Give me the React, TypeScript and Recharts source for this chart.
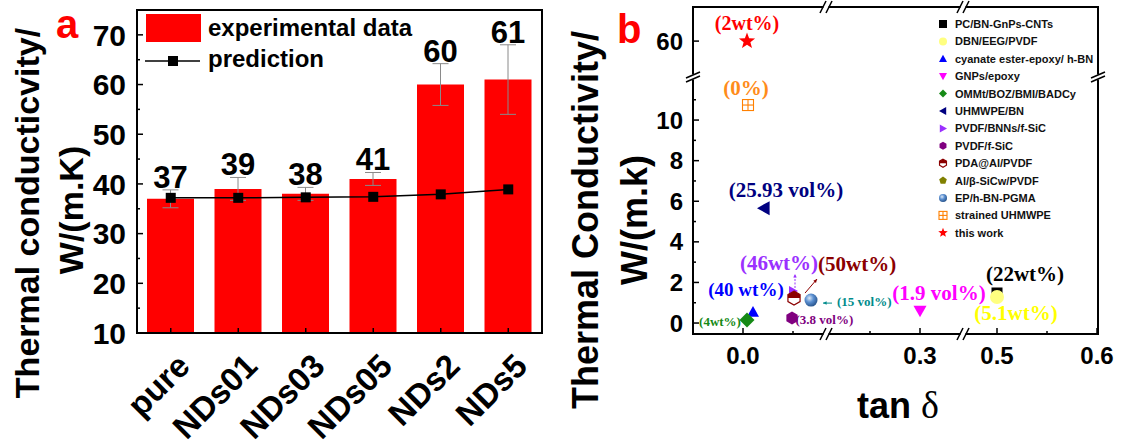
import React from 'react';
import {
  Bar, ComposedChart, ErrorBar, LabelList, Legend, Line, ReferenceLine,
  Scatter, ScatterChart, XAxis, YAxis,
} from 'recharts';

const SANS = '"Liberation Sans", Arial, Helvetica, sans-serif';
const SERIF = '"Liberation Serif", "Times New Roman", serif';

// ---------- panel a: thermal conductivity of the samples
const categories = ['pure', 'NDs01', 'NDs03', 'NDs05', 'NDs2', 'NDs5'];
const experimental = [37, 39, 38, 41, 60, 61];
const experimentalErr = [1.8, 2.3, 1.3, 1.3, 4.2, 7];
const prediction = [37.2, 37.2, 37.3, 37.4, 37.9, 38.9];
const aYTicks = [10, 15, 20, 25, 30, 35, 40, 45, 50, 55, 60, 65, 70];
const A_MIN = 10;
const A_MAX = 75;

// ---------- panel b: comparison with literature
const seriesNames = [
  'PC/BN-GnPs-CNTs', 'DBN/EEG/PVDF', 'cyanate ester-epoxy/ h-BN', 'GNPs/epoxy',
  'OMMt/BOZ/BMI/BADCy', 'UHMWPE/BN', 'PVDF/BNNs/f-SiC', 'PVDF/f-SiC', 'PDA@Al/PVDF',
  'Al/β-SiCw/PVDF', 'EP/h-BN-PGMA', 'strained UHMWPE', 'this work',
];
const tanDelta = [0.5, 0.5, 0.01, 0.3, 0.004, 0.021, 0.05, 0.049, 0.051, 0.051, 0.068, 0.005, 0.004];
const conductivity = [1.48, 1.28, 0.55, 0.6, 0.15, 5.66, 1.58, 0.25, 1.23, 1.23, 1.13, 10.74, 60];
const pointNotes = ['(22wt%)', '(5.1wt%)', '(40 wt%)', '(1.9 vol%)', '(4wt%)', '(25.93 vol%)', '(46wt%)', '(3.8 vol%)', '(50wt%)', '', '(15 vol%)', '(0%)', '(2wt%)'];
const bXTicks = [0, 0.05, 0.25, 0.3, 0.5, 0.55, 0.6];
const bYTicks = [0, 1, 2, 3, 4, 5, 6, 7, 8, 9, 10, 11, 60];

// value ranges hidden behind the // marks of the broken axes
const X_GAPS = [[0.083, 0.206], [0.343, 0.466]];
const Y_GAPS = [[12.12, 58.23]];

function squeeze(v: number, gaps: number[][]) {
  let out = v;
  for (const [a, b] of gaps) if (v >= b) out -= b - a;
  return out;
}

// chart sizes and the space around each plot box
const A_W = 560;
const A_H = 446;
const PLOT_A = { left: 137, top: 10, right: 18, bottom: 113 };
const B_W = 565;
const B_H = 446;
const PLOT_B = { left: 133, top: 7, right: 27, bottom: 112 };
const X_DOMAIN = [-0.05, 0.355];
const Y_DOMAIN = [-0.54, 15.57];

type Kind = 'square' | 'circle' | 'triUp' | 'triDown' | 'diamond' | 'triLeft' | 'triRight' | 'hexagon' | 'halfHex' | 'pentagon' | 'sphere' | 'crossSquare' | 'star';

const bStyle: { kind: Kind; color: string; text: string; s: number; fs: number; dx: number; dy: number; anchor: string; arrow?: number[]; dash?: boolean }[] = [
  { kind: 'square', color: '#000000', text: '#000000', s: 11, fs: 21, dx: 28, dy: -12, anchor: 'middle' },
  { kind: 'circle', color: '#ffff80', text: '#ffff00', s: 14, fs: 21, dx: 19, dy: 23, anchor: 'middle' },
  { kind: 'triUp', color: '#0000ff', text: '#0000ff', s: 12, fs: 19, dx: -7, dy: -16, anchor: 'middle' },
  { kind: 'triDown', color: '#ff00ff', text: '#ff00ff', s: 13, fs: 21, dx: 19, dy: -11, anchor: 'middle' },
  { kind: 'diamond', color: '#168a16', text: '#168a16', s: 15, fs: 13, dx: -27, dy: 6, anchor: 'middle' },
  { kind: 'triLeft', color: '#000080', text: '#000080', s: 14, fs: 21, dx: 22, dy: -11, anchor: 'middle' },
  { kind: 'triRight', color: '#9b30ff', text: '#9b30ff', s: 10, fs: 21, dx: -14, dy: -21, anchor: 'middle', arrow: [2, -3, 2, -17], dash: true },
  { kind: 'hexagon', color: '#800080', text: '#800080', s: 13, fs: 13, dx: 3.5, dy: 6, anchor: 'start' },
  { kind: 'halfHex', color: '#8b0000', text: '#8b0000', s: 14, fs: 21, dx: 24, dy: -27, anchor: 'start', arrow: [11, -5, 23, -19] },
  { kind: 'pentagon', color: '#808000', text: '#808000', s: 12, fs: 13, dx: 0, dy: 0, anchor: 'middle' },
  { kind: 'sphere', color: '#3b6fb0', text: '#008b8b', s: 13, fs: 13, dx: 26, dy: 6, anchor: 'start', arrow: [21, 3, 12, 3] },
  { kind: 'crossSquare', color: '#ff8000', text: '#ff8c1a', s: 11, fs: 21, dx: -2, dy: -10, anchor: 'middle' },
  { kind: 'star', color: '#ff0000', text: '#ff0000', s: 17, fs: 20, dx: 0, dy: -11, anchor: 'middle' },
];
// drawn first so the PDA@Al/PVDF marker sits on top of it
const drawOrder = [9, 0, 1, 2, 3, 4, 5, 6, 7, 8, 10, 11, 12];

function ngon(cx: number, cy: number, r: number, n: number, rot: number) {
  return Array.from({ length: n }, (_, k) => {
    const a = rot + (k * 2 * Math.PI) / n;
    return `${cx + r * Math.cos(a)},${cy + r * Math.sin(a)}`;
  }).join(' ');
}

function Marker({ kind, cx, cy, s, color }: { kind: Kind; cx: number; cy: number; s: number; color: string }) {
  const h = s / 2;
  switch (kind) {
    case 'square':
      return <rect x={cx - h} y={cy - h} width={s} height={s} fill={color} />;
    case 'circle':
      return <circle cx={cx} cy={cy} r={h} fill={color} />;
    case 'triUp':
      return <polygon points={`${cx},${cy - h} ${cx + h},${cy + h * 0.8} ${cx - h},${cy + h * 0.8}`} fill={color} />;
    case 'triDown':
      return <polygon points={`${cx},${cy + h} ${cx + h},${cy - h * 0.8} ${cx - h},${cy - h * 0.8}`} fill={color} />;
    case 'diamond':
      return <polygon points={`${cx},${cy - h} ${cx + h},${cy} ${cx},${cy + h} ${cx - h},${cy}`} fill={color} />;
    case 'triLeft':
      return <polygon points={`${cx - h},${cy} ${cx + h * 0.8},${cy - h} ${cx + h * 0.8},${cy + h}`} fill={color} />;
    case 'triRight':
      return <polygon points={`${cx + h},${cy} ${cx - h * 0.8},${cy - h} ${cx - h * 0.8},${cy + h}`} fill={color} />;
    case 'hexagon':
      return <polygon points={ngon(cx, cy, h, 6, -Math.PI / 2)} fill={color} />;
    case 'halfHex': {
      const w = h * Math.cos(Math.PI / 6);
      return (
        <g>
          <polygon points={ngon(cx, cy, h, 6, -Math.PI / 2)} fill="#fff" stroke={color} strokeWidth={1.2} />
          <polygon points={`${cx - w},${cy} ${cx - w},${cy - h / 2} ${cx},${cy - h} ${cx + w},${cy - h / 2} ${cx + w},${cy}`} fill={color} />
        </g>
      );
    }
    case 'pentagon':
      return <polygon points={ngon(cx, cy, h, 5, -Math.PI / 2)} fill={color} />;
    case 'sphere':
      return (
        <g>
          <defs>
            <radialGradient id="sphereFill" cx="38%" cy="35%" r="70%">
              <stop offset="0%" stopColor="#dbe8f7" />
              <stop offset="45%" stopColor="#5b8fd0" />
              <stop offset="100%" stopColor="#234f86" />
            </radialGradient>
          </defs>
          <circle cx={cx} cy={cy} r={h} fill="url(#sphereFill)" />
        </g>
      );
    case 'crossSquare':
      return (
        <g stroke={color} strokeWidth={1.1} fill="#fff">
          <rect x={cx - h} y={cy - h} width={s} height={s} />
          <line x1={cx - h} x2={cx + h} y1={cy} y2={cy} />
          <line x1={cx} x2={cx} y1={cy - h} y2={cy + h} />
        </g>
      );
    case 'star': {
      const pts = Array.from({ length: 10 }, (_, k) => {
        const r = k % 2 === 0 ? h : h * 0.42;
        const a = -Math.PI / 2 + (k * Math.PI) / 5;
        return `${cx + r * Math.cos(a)},${cy + r * Math.sin(a)}`;
      }).join(' ');
      return <polygon points={pts} fill={color} />;
    }
  }
  return null;
}

function Arrow({ x1, y1, x2, y2, color, dash }: { x1: number; y1: number; x2: number; y2: number; color: string; dash?: boolean }) {
  const a = Math.atan2(y2 - y1, x2 - x1);
  const L = 4;
  const p1 = `${x2 - L * Math.cos(a - 0.45)},${y2 - L * Math.sin(a - 0.45)}`;
  const p2 = `${x2 - L * Math.cos(a + 0.45)},${y2 - L * Math.sin(a + 0.45)}`;
  return (
    <g>
      <line x1={x1} y1={y1} x2={x2} y2={y2} stroke={color} strokeWidth={1} strokeDasharray={dash ? '2 1.5' : undefined} />
      <polygon points={`${x2},${y2} ${p1} ${p2}`} fill={color} />
    </g>
  );
}

function PointShape(props: any) {
  const { cx, cy, series } = props;
  const st = bStyle[series];
  const note = pointNotes[series];
  return (
    <g>
      {note && (
        <text x={cx + st.dx} y={cy + st.dy} textAnchor={st.anchor} fontFamily={SERIF} fontWeight="bold" fontSize={st.fs} fill={st.text}>
          {note}
        </text>
      )}
      {st.arrow && <Arrow x1={cx + st.arrow[0]} y1={cy + st.arrow[1]} x2={cx + st.arrow[2]} y2={cy + st.arrow[3]} color={st.text} dash={st.dash} />}
      <Marker kind={st.kind} cx={cx} cy={cy} s={st.s} color={st.color} />
    </g>
  );
}

// top / right frame edges, drawn by reference lines
function FrameEdge(props: any) {
  const { x1, y1, x2, y2 } = props;
  return <line x1={x1} y1={y1} x2={x2} y2={y2} stroke="#000" strokeWidth={2} strokeLinecap="square" />;
}

// ---------- panel a pieces
function AXTick(props: any) {
  const { x, y, payload } = props;
  return (
    <g>
      <line x1={x} x2={x} y1={y} y2={y - 5} stroke="#000" strokeWidth={1.5} />
      <text transform={`translate(${x + 21},${y + 35}) rotate(-45)`} textAnchor="end" fontFamily={SANS} fontWeight="bold" fontSize={33} fill="#000">
        {payload.value}
      </text>
    </g>
  );
}

function AYTick(props: any) {
  const { x, y, payload } = props;
  const major = payload.value % 10 === 0;
  return (
    <g>
      <line x1={x} x2={x + (major ? 6 : 3)} y1={y} y2={y} stroke="#000" strokeWidth={1.5} />
      {major && (
        <text x={x - 11} y={y} dy="0.36em" textAnchor="end" fontFamily={SANS} fontWeight="bold" fontSize={30} fill="#000">
          {payload.value}
        </text>
      )}
    </g>
  );
}

function BarValueLabel(props: any) {
  const vb = props.viewBox || props;
  const { x, y, width, height } = vb;
  const value = Number(props.value);
  const perUnit = height / (value - A_MIN);
  const top = y - experimentalErr[props.index] * perUnit;
  return (
    <text x={x + width / 2} y={top - 2} textAnchor="middle" fontFamily={SANS} fontWeight="bold" fontSize={31} fill="#000">
      {value}
    </text>
  );
}

function ATitles() {
  return (
    <g fontFamily={SANS} fontWeight="bold" fill="#000">
      <text transform="translate(39,213) rotate(-90)" textAnchor="middle" fontSize={34}>Thermal conducticvity/</text>
      <text transform="translate(83,210) rotate(-90)" textAnchor="middle" fontSize={34}>W/(m.K)</text>
      <text x={56} y={38} fontSize={40} fill="#ff0000">a</text>
    </g>
  );
}

// legend of panel a, plus the left and bottom edges of its frame
function ALegend() {
  const { left, top, right, bottom } = PLOT_A;
  const x2 = A_W - right;
  const y2 = A_H - bottom;
  return (
    <svg width={A_W} height={A_H} style={{ display: 'block', overflow: 'visible' }}>
      <polyline points={`${left},${top} ${left},${y2} ${x2},${y2}`} fill="none" stroke="#000" strokeWidth={2} strokeLinecap="square" />
      <g transform="translate(144,12)">
        <rect x={2} y={2} width={55} height={28} fill="#ff0000" />
        <text x={64} y={24} fontFamily={SANS} fontWeight="bold" fontSize={24} fill="#000">experimental data</text>
        <line x1={1} x2={56} y1={49} y2={49} stroke="#000" strokeWidth={1.5} />
        <rect x={24} y={44} width={10} height={10} fill="#000" />
        <text x={64} y={55} fontFamily={SANS} fontWeight="bold" fontSize={24} fill="#000">prediction</text>
      </g>
    </svg>
  );
}

function PanelA() {
  const data = categories.map((name, i) => ({ name, exp: experimental[i], err: experimentalErr[i], pred: prediction[i] }));
  return (
    <ComposedChart width={A_W} height={A_H} data={data} margin={{ top: PLOT_A.top, right: PLOT_A.right, bottom: 0, left: 0 }}>
      <XAxis dataKey="name" height={PLOT_A.bottom} axisLine={false} tickLine={false} tickSize={0} tickMargin={0} interval={0} tick={(p: any) => <AXTick {...p} />} />
      <YAxis
        domain={[A_MIN, A_MAX]} ticks={aYTicks} width={PLOT_A.left} axisLine={false} tickLine={false}
        tickSize={0} tickMargin={0} interval={0} tick={(p: any) => <AYTick {...p} />}
        label={{ content: () => <ATitles /> }}
      />
      <Bar dataKey="exp" fill="#ff0000" barSize={47} isAnimationActive={false}>
        <ErrorBar dataKey="err" width={8} stroke="#8a8a8a" strokeWidth={1} isAnimationActive={false} />
        <LabelList dataKey="exp" content={(p: any) => <BarValueLabel {...p} />} />
      </Bar>
      <Line
        dataKey="pred" stroke="#000" strokeWidth={1.5} isAnimationActive={false}
        dot={(p: any) => <rect key={p.index} x={p.cx - 5} y={p.cy - 5} width={10} height={10} fill="#000" />}
      />
      <ReferenceLine y={A_MAX} ifOverflow="visible" shape={(p: any) => <FrameEdge {...p} />} />
      <ReferenceLine x={categories[categories.length - 1]} position="end" ifOverflow="visible" shape={(p: any) => <FrameEdge {...p} />} />
      <Legend
        layout="horizontal" verticalAlign="middle" align="center"
        wrapperStyle={{ left: 0, top: 0, width: A_W, height: A_H, pointerEvents: 'none' }}
        content={() => <ALegend />}
      />
    </ComposedChart>
  );
}

// ---------- panel b pieces
function BXTick(props: any) {
  const { x, y, payload } = props;
  const real = bXTicks.find((t) => Math.abs(squeeze(t, X_GAPS) - payload.value) < 1e-6) ?? 0;
  const major = Math.abs(real * 10 - Math.round(real * 10)) < 1e-6;
  return (
    <g>
      <line x1={x} x2={x} y1={y} y2={y - (major ? 6 : 3)} stroke="#000" strokeWidth={1.5} />
      {major && (
        <text x={x} y={y + 30} textAnchor="middle" fontFamily={SANS} fontWeight="bold" fontSize={24} fill="#000">
          {real.toFixed(1)}
        </text>
      )}
    </g>
  );
}

function BYTick(props: any) {
  const { x, y, payload } = props;
  const real = bYTicks.find((t) => Math.abs(squeeze(t, Y_GAPS) - payload.value) < 1e-6) ?? 0;
  const major = real % 2 === 0;
  return (
    <g>
      <line x1={x} x2={x + (major ? 6 : 3)} y1={y} y2={y} stroke="#000" strokeWidth={1.5} />
      {major && (
        <text x={x - 10} y={y} dy="0.36em" textAnchor="end" fontFamily={SANS} fontWeight="bold" fontSize={24} fill="#000">
          {real}
        </text>
      )}
    </g>
  );
}

function BTitles() {
  return (
    <g fontFamily={SANS} fontWeight="bold" fill="#000">
      <text transform="translate(38,220) rotate(-90)" textAnchor="middle" fontSize={36}>Thermal Conductivity/</text>
      <text transform="translate(87,220) rotate(-90)" textAnchor="middle" fontSize={36}>W/(m.k)</text>
      <text x={57} y={43} fontSize={40} fill="#ff0000">b</text>
    </g>
  );
}

function XLabelB() {
  return (
    <text x={338} y={418} textAnchor="middle" fill="#000">
      <tspan fontFamily={SANS} fontWeight="bold" fontSize={36}>tan </tspan>
      <tspan fontFamily={SERIF} fontSize={38}>δ</tspan>
    </text>
  );
}

// two short slashes with a white gap, where an axis is broken
function BreakOnHorizontal(props: any) {
  const { x1, y1, y2 } = props;
  return (
    <g>
      {[y1, y2].map((y: number) => (
        <g key={y}>
          <rect x={x1 - 2.5} y={y - 2} width={5} height={4} fill="#fff" />
          <line x1={x1 - 6} y1={y + 6} x2={x1} y2={y - 6} stroke="#000" strokeWidth={1.5} />
          <line x1={x1} y1={y + 6} x2={x1 + 6} y2={y - 6} stroke="#000" strokeWidth={1.5} />
        </g>
      ))}
    </g>
  );
}

function BreakOnVertical(props: any) {
  const { x1, x2, y1 } = props;
  return (
    <g>
      {[x1, x2].map((x: number) => (
        <g key={x}>
          <rect x={x - 2} y={y1 - 2.5} width={4} height={5} fill="#fff" />
          <line x1={x - 7} y1={y1 + 1} x2={x + 7} y2={y1 - 5} stroke="#000" strokeWidth={1.5} />
          <line x1={x - 7} y1={y1 + 5} x2={x + 7} y2={y1 - 1} stroke="#000" strokeWidth={1.5} />
        </g>
      ))}
    </g>
  );
}

// legend of panel b, plus the left and bottom edges of its frame (left open at the breaks)
function BLegend() {
  const { left, top, right, bottom } = PLOT_B;
  const x2 = B_W - right;
  const y2 = B_H - bottom;
  const px = (v: number) => left + ((v - X_DOMAIN[0]) / (X_DOMAIN[1] - X_DOMAIN[0])) * (x2 - left);
  const py = (v: number) => y2 - ((v - Y_DOMAIN[0]) / (Y_DOMAIN[1] - Y_DOMAIN[0])) * (y2 - top);
  const G = 2.5;
  const gx = X_GAPS.map((g) => px(squeeze(g[0], X_GAPS)));
  const gy = py(squeeze(Y_GAPS[0][0], Y_GAPS));
  const xs = [left, ...gx.flatMap((g) => [g - G, g + G]), x2];
  const edge = { stroke: '#000', strokeWidth: 2 };
  return (
    <svg width={B_W} height={B_H} style={{ display: 'block', overflow: 'visible' }}>
      {[0, 2, 4].map((k) => (
        <line key={k} x1={xs[k] - (k === 0 ? 1 : 0)} x2={xs[k + 1]} y1={y2} y2={y2} {...edge} />
      ))}
      <line x1={left} x2={left} y1={top - 1} y2={gy - G} {...edge} />
      <line x1={left} x2={left} y1={gy + G} y2={y2} {...edge} />
      <g transform="translate(373,14)">
        {seriesNames.map((name, i) => {
          const cy = 10 + i * 17.4;
          const st = bStyle[i];
          return (
            <g key={name}>
              <Marker kind={st.kind} cx={10} cy={cy} s={st.kind === 'star' ? 10 : 8} color={st.color} />
              <text x={22} y={cy + 4} fontFamily={SANS} fontWeight="bold" fontSize={11} fill="#111">{name}</text>
            </g>
          );
        })}
      </g>
    </svg>
  );
}

function PanelB() {
  return (
    <ScatterChart width={B_W} height={B_H} margin={{ top: PLOT_B.top, right: PLOT_B.right, bottom: 0, left: 0 }}>
      <XAxis
        type="number" dataKey="x" domain={X_DOMAIN} ticks={bXTicks.map((t) => squeeze(t, X_GAPS))}
        height={PLOT_B.bottom} axisLine={false} tickLine={false} tickSize={0} tickMargin={0} interval={0}
        tick={(p: any) => <BXTick {...p} />} label={{ content: () => <XLabelB /> }}
      />
      <YAxis
        type="number" dataKey="y" domain={Y_DOMAIN} ticks={bYTicks.map((t) => squeeze(t, Y_GAPS))}
        width={PLOT_B.left} axisLine={false} tickLine={false} tickSize={0} tickMargin={0} interval={0}
        tick={(p: any) => <BYTick {...p} />} label={{ content: () => <BTitles /> }}
      />
      {drawOrder.map((i) => (
        <Scatter
          key={seriesNames[i]}
          name={seriesNames[i]}
          data={[{ x: squeeze(tanDelta[i], X_GAPS), y: squeeze(conductivity[i], Y_GAPS) }]}
          fill={bStyle[i].color}
          isAnimationActive={false}
          shape={(p: any) => <PointShape {...p} series={i} />}
        />
      ))}
      <ReferenceLine y={Y_DOMAIN[1]} ifOverflow="visible" shape={(p: any) => <FrameEdge {...p} />} />
      <ReferenceLine x={X_DOMAIN[1]} ifOverflow="visible" shape={(p: any) => <FrameEdge {...p} />} />
      <ReferenceLine x={squeeze(X_GAPS[0][0], X_GAPS)} ifOverflow="visible" shape={(p: any) => <BreakOnHorizontal {...p} />} />
      <ReferenceLine x={squeeze(X_GAPS[1][0], X_GAPS)} ifOverflow="visible" shape={(p: any) => <BreakOnHorizontal {...p} />} />
      <ReferenceLine y={squeeze(Y_GAPS[0][0], Y_GAPS)} ifOverflow="visible" shape={(p: any) => <BreakOnVertical {...p} />} />
      <Legend
        layout="horizontal" verticalAlign="middle" align="center"
        wrapperStyle={{ left: 0, top: 0, width: B_W, height: B_H, pointerEvents: 'none' }}
        content={() => <BLegend />}
      />
    </ScatterChart>
  );
}

export default function App() {
  return (
    <div style={{ position: 'absolute', left: 0, top: 0, width: 1125, height: 446, background: '#fff', overflow: 'hidden' }}>
      <div style={{ position: 'absolute', left: 0, top: 0 }}>
        <PanelA />
      </div>
      <div style={{ position: 'absolute', left: 560, top: 0 }}>
        <PanelB />
      </div>
    </div>
  );
}
